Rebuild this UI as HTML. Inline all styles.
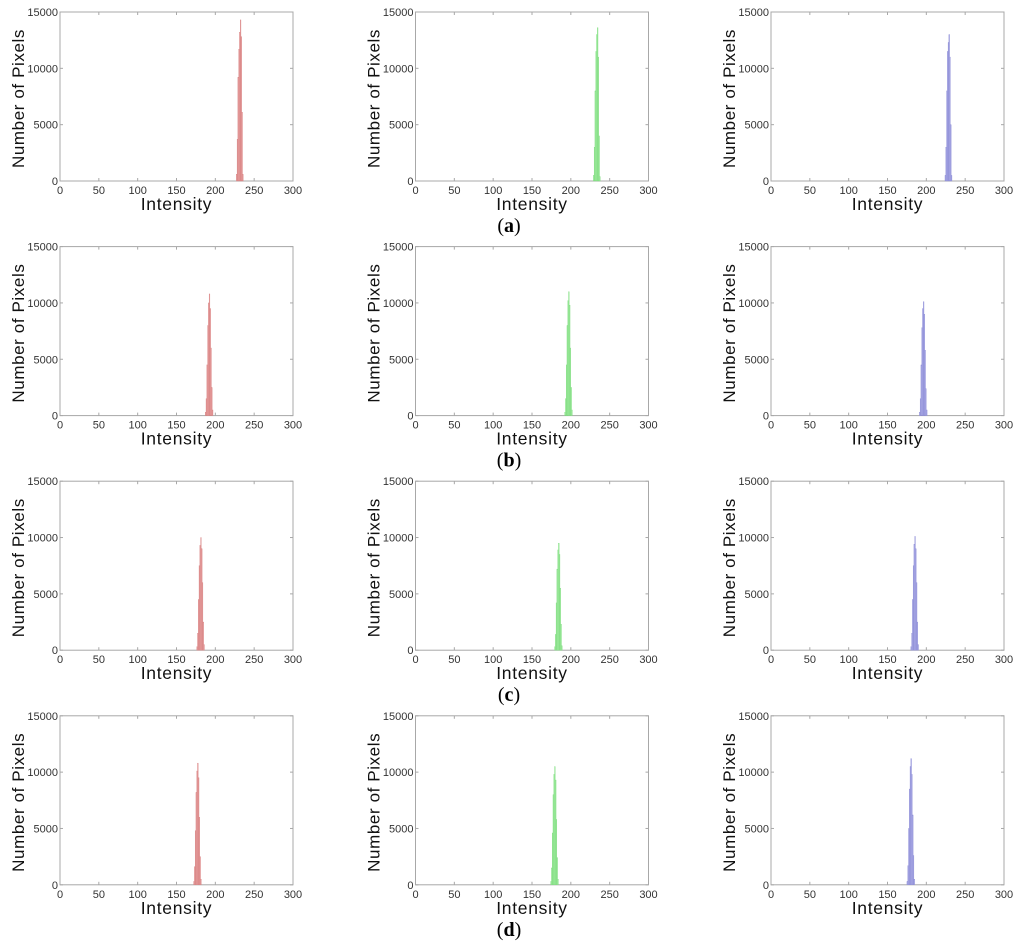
<!DOCTYPE html>
<html><head><meta charset="utf-8">
<style>
html,body{margin:0;padding:0;background:#fff;}
svg{display:block;font-family:"Liberation Sans","DejaVu Sans",sans-serif;}
</style></head>
<body>
<svg id="fig" width="1024" height="951" viewBox="0 0 1024 951"></svg>
<script>
const xTicks=[0,50,100,150,200,250,300];
const yTicks=[0,5000,10000,15000];
const rowLabels=['a','b','c','d'];
const channelColors=['#eaa3a3','#a6eea6','#b0b0e8'];
const channelEdges=['#d27a7a','#76d876','#8484d2'];
// start intensity per panel (row-major: R,G,B)
const starts=[227,229,224, 187,192,191, 176,179,180, 172,174,175];
const aR=[600,3700,9200,11700,13200,14300,12800,6100,600];
const aG=[500,3000,8000,11500,13000,13600,11000,4000,400];
const aB=[500,3000,8000,11500,12300,13000,11000,5000,500];
const bR=[300,1500,4500,8000,10000,10800,9500,6000,2500,500];
const bG=[300,1500,4500,8000,10200,11000,9800,6000,2500,500];
const bB=[300,1500,4500,7800,9500,10100,9000,5800,2400,500];
const cR=[300,1500,4500,7500,9300,10000,9000,6000,2500,500];
const cG=[300,1400,4200,7200,8900,9500,8500,5500,2300,400];
const cB=[300,1500,4500,7500,9400,10100,9000,6000,2500,500];
const dR=[300,1600,4800,8200,10100,10800,9500,6000,2500,500];
const dG=[300,1500,4600,8000,9800,10500,9300,5800,2400,500];
const dB=[300,1700,5000,8500,10500,11200,9800,6200,2600,500];
const series=[aR,aG,aB,bR,bG,bB,cR,cG,cB,dR,dG,dB];

const NS='http://www.w3.org/2000/svg';
const svg=document.getElementById('fig');
function mk(t,a,p){const e=document.createElementNS(NS,t);for(const k in a)e.setAttribute(k,a[k]);(p||svg).appendChild(e);return e;}
const W=233,H=169;
for(let r=0;r<4;r++){
  for(let c=0;c<3;c++){
    const i=r*3+c;
    const x0=60+c*355.5, y0=12+r*234.6;
    const g=mk('g',{});
    
    
    const sx=v=>x0+v/300*W, sy=v=>y0+H-v/15000*H;
    mk('rect',{x:x0,y:y0,width:W,height:H,fill:'none',stroke:'#a8a8a8','stroke-width':1},g);
    xTicks.forEach(t=>{
      const x=sx(t);
      mk('line',{x1:x,x2:x,y1:y0+H,y2:y0+H-3,stroke:'#a8a8a8'},g);
      mk('line',{x1:x,x2:x,y1:y0,y2:y0+3,stroke:'#a8a8a8'},g);
      const tx=mk('text',{x:x,y:y0+H+13,'font-size':11,'text-anchor':'middle',fill:'#333'},g);
      tx.textContent=t;
    });
    yTicks.forEach(t=>{
      const y=sy(t);
      mk('line',{x1:x0,x2:x0+3,y1:y,y2:y,stroke:'#a8a8a8'},g);
      mk('line',{x1:x0+W,x2:x0+W-3,y1:y,y2:y,stroke:'#a8a8a8'},g);
      const tx=mk('text',{x:x0-2,y:y+4,'font-size':11,'text-anchor':'end',fill:'#333'},g);
      tx.textContent=t;
    });
    const vals=series[i], st=starts[i];
    vals.forEach((v,k)=>{
      const b=mk('rect',{x:sx(st+k),y:sy(v),width:W/300,height:sy(0)-sy(v),fill:channelColors[c],stroke:channelEdges[c],'stroke-width':0.3},g);
      
      
    });
    const xl=mk('text',{x:x0+W/2,y:y0+H+29,'font-size':17.5,'text-anchor':'middle',fill:'#111','letter-spacing':'0.7'},g);
    xl.textContent='Intensity';
    
    
    const yl=mk('text',{x:0,y:0,'font-size':17,'text-anchor':'middle',fill:'#111','letter-spacing':'0.6',transform:'translate('+(x0-36)+','+(y0+H/2+2)+') rotate(-90)'},g);
    yl.textContent='Number of Pixels';
    
    
  }
  const lab=mk('text',{x:509,y:232+r*234.6,'font-size':20,'text-anchor':'middle',fill:'#000','font-family':'"Liberation Serif",serif'});
  lab.innerHTML='(<tspan font-weight="bold">'+rowLabels[r]+'</tspan>)';
  
  
}
</script>
</body></html>
